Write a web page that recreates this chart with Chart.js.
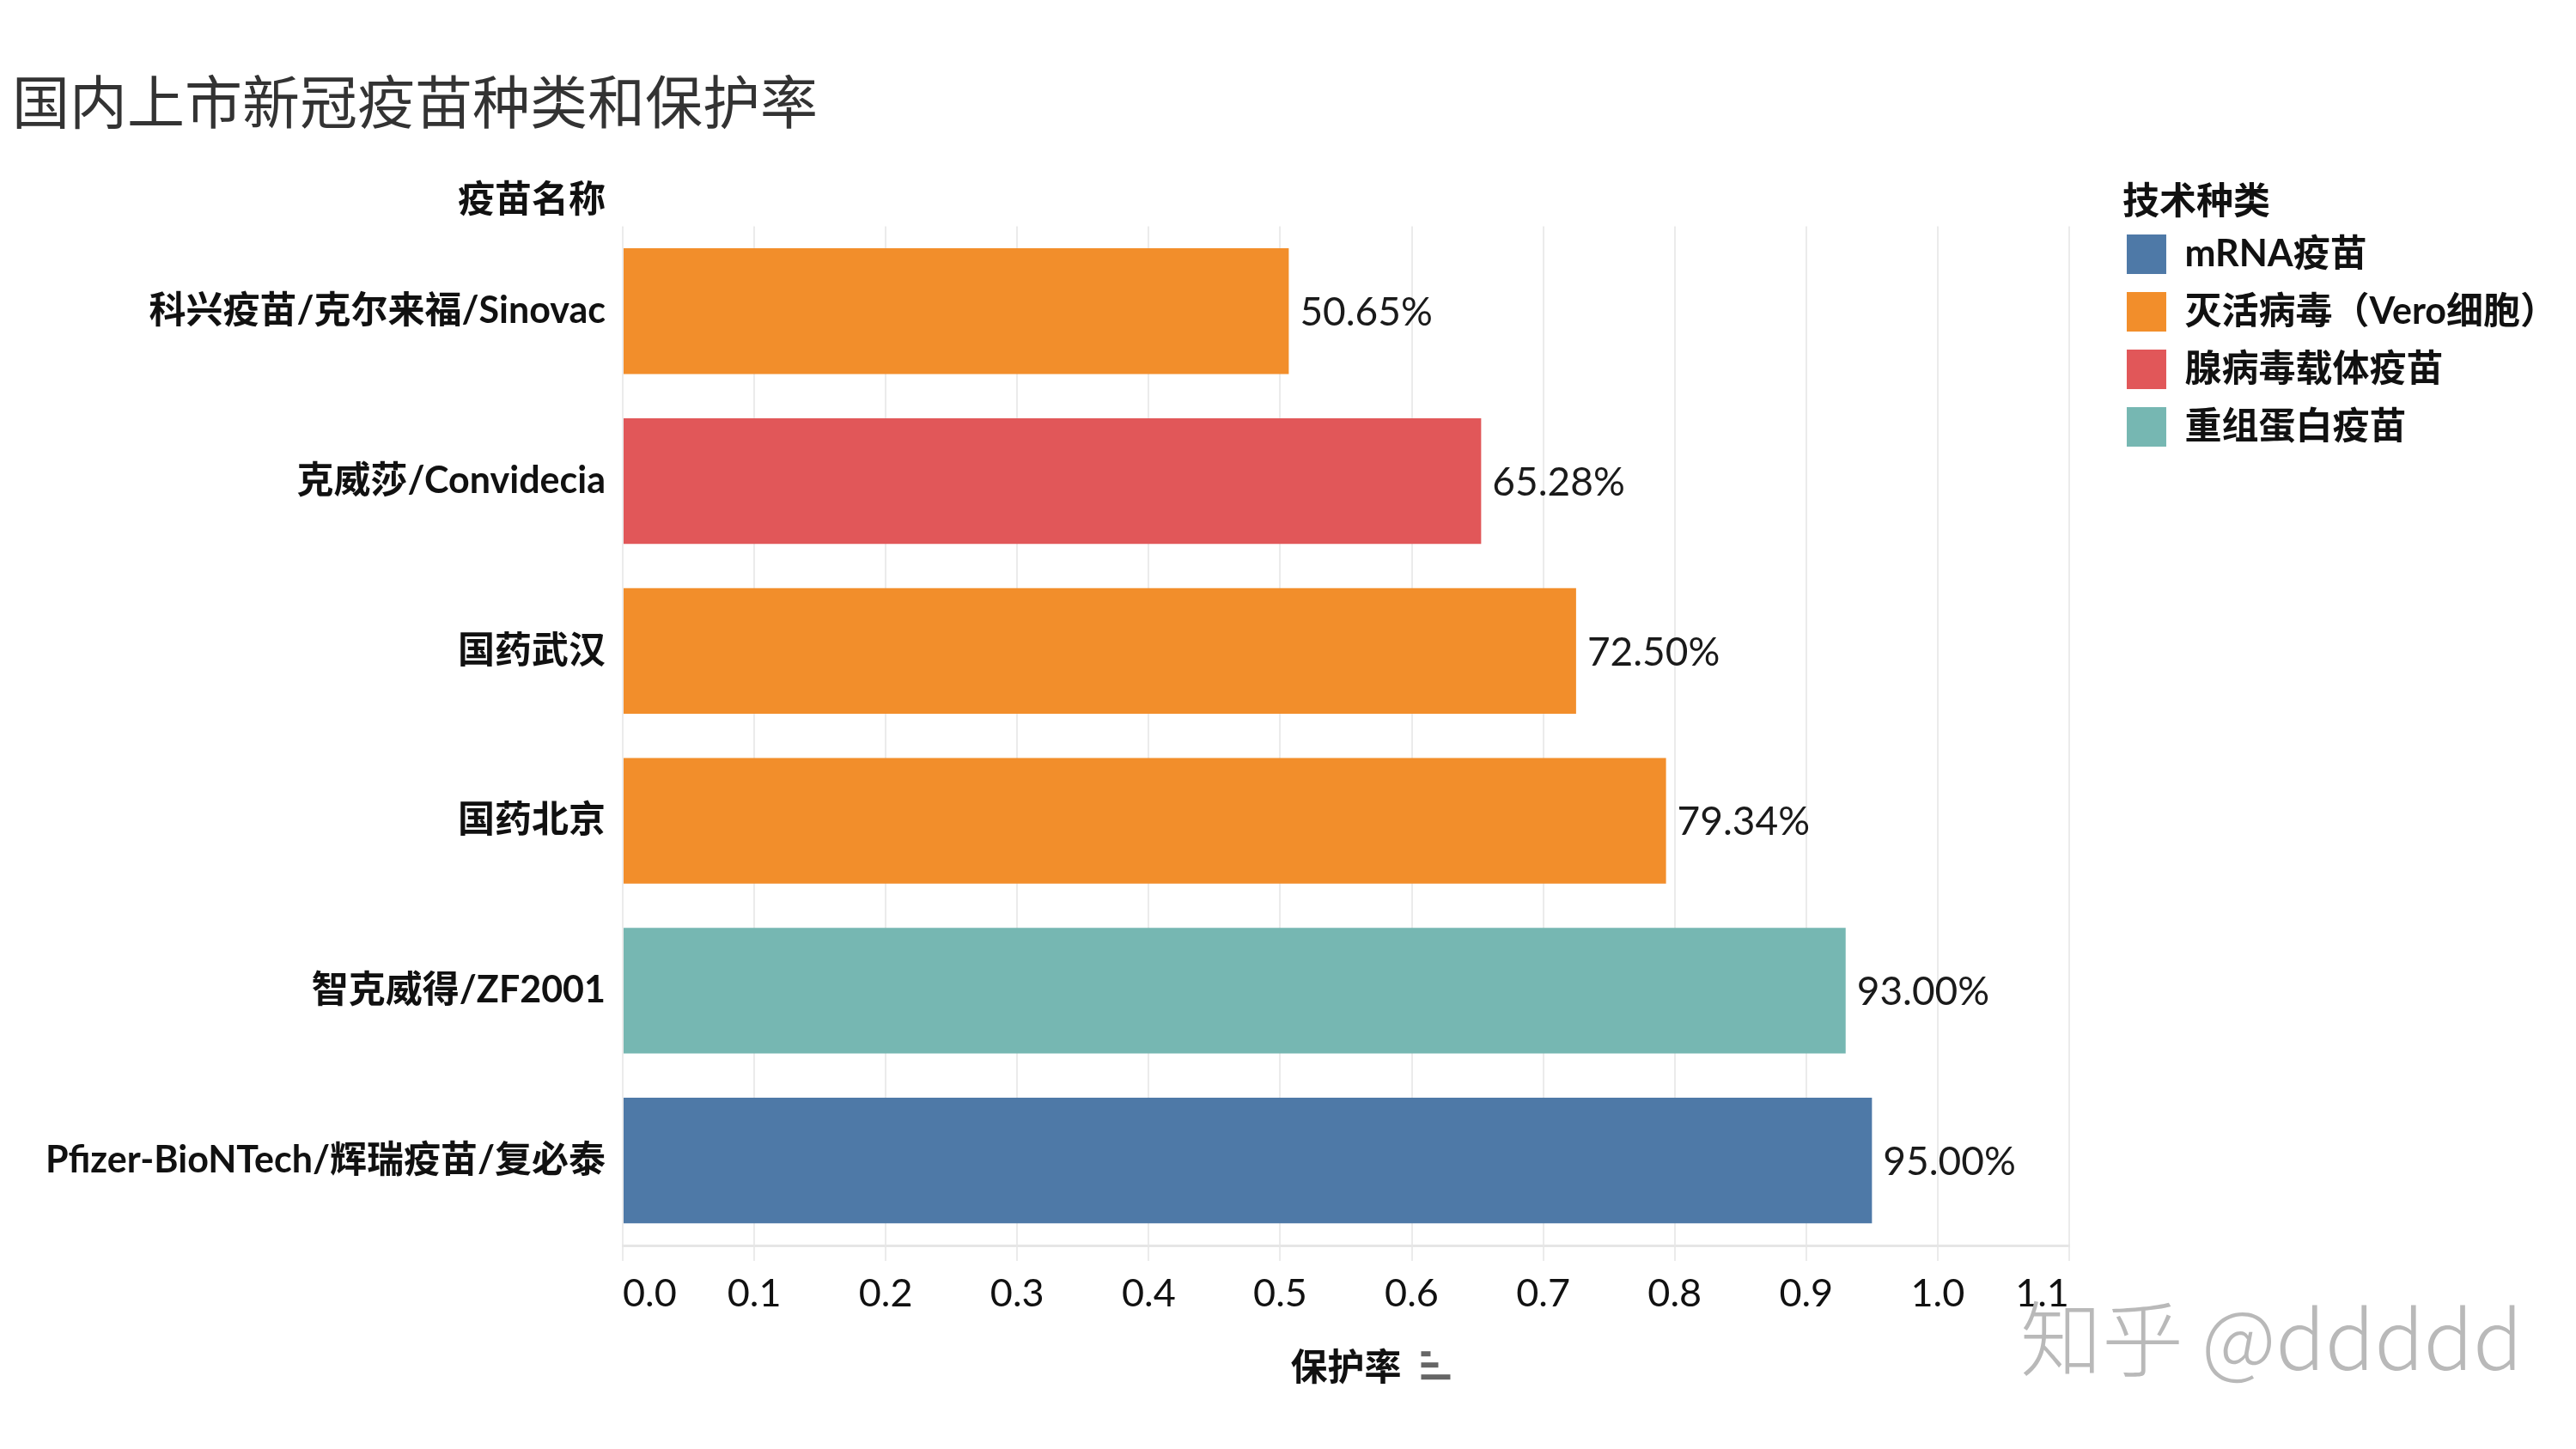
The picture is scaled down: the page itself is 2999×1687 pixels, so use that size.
<!DOCTYPE html>
<html>
<head>
<meta charset="utf-8">
<script src="https://cdn.jsdelivr.net/npm/chart.js@4.4.1/dist/chart.umd.min.js"></script>
<style>
  html, body { margin: 0; padding: 0; background: #ffffff; }
  #wrap { position: relative; width: 2999px; height: 1687px; overflow: hidden; background: #ffffff; }
  #c { position: absolute; left: 0; top: 0; }
  #wm { position: absolute; left: 2352px; top: 1506px; font-family: "Noto Sans CJK SC", sans-serif; font-weight: 300; font-size: 95px; line-height: 1; color: #b9b9b9; white-space: nowrap; }
</style>
</head>
<body>
<div id="wrap">
  <canvas id="c" width="2999" height="1687"></canvas>
  <div id="wm">知乎 @ddddd</div>
</div>
<script>
// ---- data ----
const chartTitle = '国内上市新冠疫苗种类和保护率';
const categoryAxisTitle = '疫苗名称';
const valueAxisTitle = '保护率';
const legendTitle = '技术种类';
const categories = [
  '科兴疫苗/克尔来福/Sinovac',
  '克威莎/Convidecia',
  '国药武汉',
  '国药北京',
  '智克威得/ZF2001',
  'Pfizer-BioNTech/辉瑞疫苗/复必泰'
];
const protectionRates = [0.5065, 0.6528, 0.7250, 0.7934, 0.9300, 0.9500];
const techOfCategory = [
  '灭活病毒（Vero细胞）',
  '腺病毒载体疫苗',
  '灭活病毒（Vero细胞）',
  '灭活病毒（Vero细胞）',
  '重组蛋白疫苗',
  'mRNA疫苗'
];
const techTypes = ['mRNA疫苗', '灭活病毒（Vero细胞）', '腺病毒载体疫苗', '重组蛋白疫苗'];
const techColors = ['#4e79a7', '#f28e2b', '#e15759', '#76b7b2'];
const xMin = 0.0;
const xMax = 1.1;
const xStep = 0.1;

// ---- build datasets ----
const datasets = techTypes.map((t, i) => ({
  label: t,
  data: protectionRates.map((v, j) => techOfCategory[j] === t ? v : null),
  backgroundColor: techColors[i],
  borderWidth: 0,
  yAxisID: 'y',
  xAxisID: 'x'
}));

const FONT = 'Lato, "Noto Sans CJK SC", "Noto Sans", sans-serif';
const LEGEND_TITLE_PAD_TOP = 214;
const LEGEND_TITLE_SIZE = 43;

const valueLabels = {
  id: 'valueLabels',
  afterDatasetsDraw(chart) {
    const ctx = chart.ctx;
    ctx.save();
    ctx.font = '46px ' + FONT;
    ctx.fillStyle = '#1a1a1a';
    ctx.textAlign = 'left';
    ctx.textBaseline = 'middle';
    chart.data.datasets.forEach((ds, i) => {
      const meta = chart.getDatasetMeta(i);
      meta.data.forEach((el, j) => {
        const v = ds.data[j];
        if (v === null || v === undefined) return;
        ctx.fillText((v * 100).toFixed(2) + '%', el.x + 13, el.y + 2);
      });
    });
    ctx.restore();
  }
};

const headers = {
  id: 'headers',
  afterDraw(chart) {
    const ctx = chart.ctx;
    const ys = chart.scales.y;
    const xs = chart.scales.x;
    ctx.save();
    ctx.font = 'bold 43px ' + FONT;
    ctx.fillStyle = '#111111';
    ctx.textAlign = 'right';
    ctx.textBaseline = 'middle';
    ctx.fillText(categoryAxisTitle, ys.right - 20, chart.chartArea.top - 30);
    // legend title, aligned with the legend swatches
    const lg = chart.legend;
    if (lg && lg.legendHitBoxes && lg.legendHitBoxes.length) {
      ctx.textAlign = 'left';
      ctx.font = 'bold ' + LEGEND_TITLE_SIZE + 'px ' + FONT;
      ctx.fillText(legendTitle, lg.legendHitBoxes[0].left - 5, lg.top + LEGEND_TITLE_PAD_TOP + LEGEND_TITLE_SIZE / 2);
    }
    // sort indicator beside the value-axis title
    ctx.font = 'bold 43px ' + FONT;
    const tw = ctx.measureText(valueAxisTitle).width;
    const cx = (xs.left + xs.right) / 2 + tw / 2 + 23;
    const cy = xs.bottom - 68 - 25.8;
    ctx.fillStyle = '#666666';
    ctx.fillRect(cx, cy - 20, 11, 6);
    ctx.fillRect(cx, cy - 7, 20, 6);
    ctx.fillRect(cx, cy + 7, 34, 6);
    ctx.restore();
  }
};

new Chart(document.getElementById('c'), {
  type: 'bar',
  data: { labels: categories, datasets: datasets },
  plugins: [valueLabels, headers],
  options: {
    indexAxis: 'y',
    responsive: false,
    devicePixelRatio: 1,
    animation: false,
    layout: { padding: { left: 14, right: 12, top: 0, bottom: 0 } },
    datasets: { bar: { grouped: false, categoryPercentage: 1.0, barPercentage: 0.74 } },
    scales: {
      x: {
        type: 'linear',
        position: 'bottom',
        min: xMin,
        max: xMax,
        afterFit(s) { s.height = 237; },
        ticks: {
          stepSize: xStep,
          align: 'inner',
          padding: 11,
          color: '#111111',
          font: { family: FONT, size: 45 },
          callback: (v) => Number(v).toFixed(1)
        },
        grid: { display: true, color: '#ebebeb', lineWidth: 2, drawTicks: true, tickLength: 18, tickColor: '#ebebeb' },
        border: { display: true, color: '#e6e6e6', width: 3 },
        title: {
          display: true,
          text: valueAxisTitle,
          color: '#111111',
          font: { family: FONT, size: 43, weight: 'bold' },
          padding: { top: 0, bottom: 68 }
        }
      },
      y: {
        type: 'category',
        position: 'left',
        afterFit(s) { s.width = 711; },
        ticks: {
          padding: 20,
          color: '#111111',
          font: { family: FONT, size: 43, weight: 'bold' }
        },
        grid: { display: false, drawTicks: false },
        border: { display: false }
      },
      yRightGap: {
        type: 'category',
        position: 'right',
        axis: 'y',
        afterFit(s) { s.width = 46; },
        ticks: { display: false },
        grid: { display: false, drawTicks: false },
        border: { display: false }
      }
    },
    plugins: {
      title: {
        display: true,
        text: chartTitle,
        align: 'start',
        color: '#333333',
        font: { family: FONT, size: 67, weight: 'normal' },
        padding: { top: 82, bottom: 101 }
      },
      legend: {
        display: true,
        position: 'right',
        align: 'start',
        maxWidth: 700,
        title: {
          display: true,
          text: legendTitle,
          position: 'start',
          color: 'rgba(0,0,0,0)',
          font: { family: FONT, size: LEGEND_TITLE_SIZE, weight: 'bold', lineHeight: 1.0 },
          padding: { top: LEGEND_TITLE_PAD_TOP, bottom: -5 }
        },
        labels: {
          boxWidth: 46,
          boxHeight: 46,
          padding: 21,
          color: '#111111',
          font: { family: FONT, size: 43, weight: 'bold' }
        }
      },
      tooltip: { enabled: false }
    }
  }
});
</script>
</body>
</html>
